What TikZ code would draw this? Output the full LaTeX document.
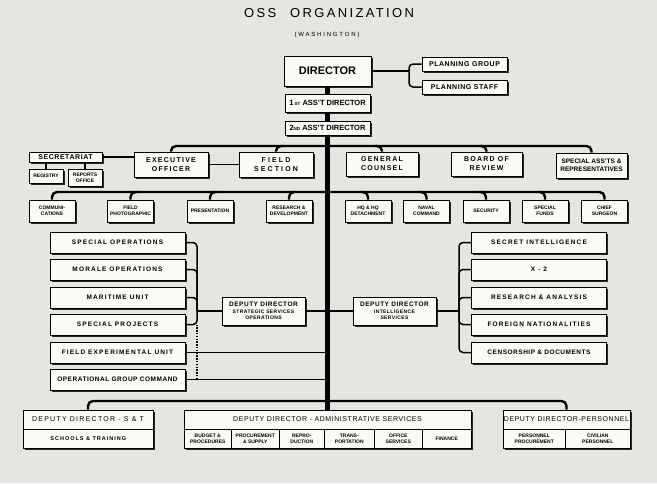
\documentclass[tikz,border=0pt]{standalone}
\usepackage{fontspec}
\setmainfont{Liberation Sans}
\newfontfamily\spaced[LetterSpace=8]{Liberation Sans}
\newfontfamily\wider[LetterSpace=18]{Liberation Sans}
\newfontfamily\widest[LetterSpace=30]{Liberation Sans}
\usetikzlibrary{shadows}
\definecolor{paper}{RGB}{229,229,225}
\definecolor{card}{RGB}{250,250,247}
\newcommand{\sz}[2]{\fontsize{#1}{#2}\selectfont}

\begin{document}
\begin{tikzpicture}[x=1pt, y=-1pt,
  box/.style={draw, line width=0.6pt, fill=card, inner sep=0pt, align=center,
    font=\bfseries\sz{6.5}{7.5},
    drop shadow={shadow xshift=1.7pt, shadow yshift=-1.7pt, opacity=1, fill=black!85}},
  wh/.style 2 args={minimum width=#1pt, minimum height=#2pt},
  office/.style={box, wh={46}{22}, font=\bfseries\sz{5}{6}},
  lcol/.style={box, wh={135}{21}, font=\wider\bfseries\sz{6.5}{7.5}},
  head/.style={box, minimum height=19pt, font=\spaced\sz{7}{8}},
  cell/.style={box, anchor=north west, minimum height=19pt, font=\bfseries\sz{5}{6}},
  link/.style={line width=1.5pt, rounded corners=4pt},
  rail/.style={line width=2.4pt, rounded corners=5pt},
  trunk/.style={line width=4.8pt},
  dots/.style={line width=1.5pt, dash pattern=on 1.4pt off 1.4pt}]
% paper
\fill[paper] (0,0) rectangle (657,483);
% title
\node[font=\wider\sz{13}{14}] (title) at (329,13) {OSS\hspace{14pt}ORGANIZATION};
\node[font=\widest\sz{6}{7}] (city) at (327,35) {(WASHINGTON)};
% top
\node[box, wh={87}{30}, font=\bfseries\sz{11}{12}] (dir) at (327.5,71) {DIRECTOR};
\node[box, wh={85}{18}, font=\bfseries\sz{7.5}{8}] (a1) at (327.5,103) {1\,{\sz{4.5}{5}ST} ASS'T DIRECTOR};
\node[box, wh={85}{14}, font=\bfseries\sz{7.5}{8}] (a2) at (327.5,128) {2{\sz{4.5}{5}ND} ASS'T DIRECTOR};
\node[box, wh={85}{14}, font=\spaced\bfseries\sz{7}{8}] (plang) at (464.5,64) {PLANNING GROUP};
\node[box, wh={85}{14}, font=\spaced\bfseries\sz{7}{8}] (plans) at (464.5,87) {PLANNING STAFF};
% second row
\node[box, wh={73}{10}, font=\spaced\bfseries\sz{7}{8}] (secr) at (65.5,157) {SECRETARIAT};
\node[box, wh={34}{14}, font=\bfseries\sz{5}{6}] (reg) at (46,176) {REGISTRY};
\node[box, wh={34}{17}, font=\bfseries\sz{5}{6}] (rep) at (85,177.5) {REPORTS\\OFFICE};
\node[box, wh={74}{25}, font=\wider\bfseries\sz{7}{9}] (exec) at (171,164.5) {EXECUTIVE\\OFFICER};
\node[box, wh={74}{25}, font=\widest\bfseries\sz{7}{9}] (field) at (276,164.5) {FIELD\\SECTION};
\node[box, wh={72}{24}, font=\wider\bfseries\sz{7}{9}] (couns) at (382,164) {GENERAL\\COUNSEL};
\node[box, wh={71}{24}, font=\wider\bfseries\sz{7}{9}] (review) at (486.5,164) {BOARD OF\\REVIEW};
\node[box, wh={71}{25}, font=\bfseries\sz{6.5}{8}] (spec) at (591.5,165.5) {SPECIAL ASS'TS \&\\REPRESENTATIVES};
% third row
\node[office] (comm) at (52,211) {COMMUNI-\\CATIONS};
\node[office] (photo) at (130.5,211) {FIELD\\PHOTOGRAPHIC};
\node[office] (pres) at (210,211) {PRESENTATION};
\node[office] (rnd) at (289,211) {RESEARCH \&\\DEVELOPMENT};
\node[office] (hq) at (368,211) {HQ \& HQ\\DETACHMENT};
\node[office] (naval) at (426.5,211) {NAVAL\\COMMAND};
\node[office] (secur) at (486,211) {SECURITY};
\node[office] (funds) at (545,211) {SPECIAL\\FUNDS};
\node[office] (surg) at (604.5,211) {CHIEF\\SURGEON};
% strategic services
\node[lcol] (so) at (117.5,242.5) {SPECIAL OPERATIONS};
\node[lcol] (mo) at (117.5,269.5) {MORALE OPERATIONS};
\node[lcol] (mu) at (117.5,297.5) {MARITIME UNIT};
\node[lcol] (sp) at (117.5,324.5) {SPECIAL PROJECTS};
\node[lcol] (feu) at (117.5,352.5) {FIELD EXPERIMENTAL UNIT};
\node[lcol, font=\spaced\bfseries\sz{6.5}{7.5}] (ogc) at (117.5,379.5) {OPERATIONAL GROUP COMMAND};
\node[box, wh={83}{28}, font=\spaced\bfseries\sz{6.5}{6.5}] (ddso) at (263.5,311)
  {DEPUTY DIRECTOR\\{\sz{5}{6}STRATEGIC SERVICES}\\{\sz{5}{6}OPERATIONS}};
% intelligence
\node[box, wh={83}{28}, font=\spaced\bfseries\sz{6.5}{6.5}] (ddis) at (394.5,311)
  {DEPUTY DIRECTOR\\{\sz{5}{6}INTELLIGENCE}\\{\sz{5}{6}SERVICES}};
\node[lcol] (si) at (539,242.5) {SECRET INTELLIGENCE};
\node[lcol] (x2) at (539,269.5) {X - 2};
\node[lcol] (ra) at (539,297.5) {RESEARCH \& ANALYSIS};
\node[lcol] (fn) at (539,324.5) {FOREIGN NATIONALITIES};
\node[lcol, font=\spaced\bfseries\sz{6.5}{7.5}] (cd) at (539,352.5) {CENSORSHIP \& DOCUMENTS};
% bottom
\node[head, minimum width=130pt, font=\wider\sz{7}{8}] (st) at (88,419.5) {DEPUTY DIRECTOR - S \& T};
\node[cell, minimum width=130pt, font=\wider\bfseries\sz{5.5}{6}] (school) at (23,429) {SCHOOLS \& TRAINING};
\node[head, minimum width=287pt] (admin) at (327.5,419.5) {DEPUTY DIRECTOR - ADMINISTRATIVE SERVICES};
\node[cell, minimum width=47pt] (budget) at (184,429) {BUDGET \&\\PROCEDURES};
\node[cell, minimum width=48pt] (proc) at (231,429) {PROCUREMENT\\\& SUPPLY};
\node[cell, minimum width=45pt] (repro) at (279,429) {REPRO-\\DUCTION};
\node[cell, minimum width=50pt] (trans) at (324,429) {TRANS-\\PORTATION};
\node[cell, minimum width=48pt] (offsvc) at (374,429) {OFFICE\\SERVICES};
\node[cell, minimum width=49pt] (fin) at (422,429) {FINANCE};
\node[head, minimum width=127pt] (pers) at (566.5,419.5) {DEPUTY DIRECTOR-PERSONNEL};
\node[cell, minimum width=62pt] (pproc) at (503,429) {PERSONNEL\\PROCUREMENT};
\node[cell, minimum width=65pt] (civ) at (565,429) {CIVILIAN\\PERSONNEL};
% trunk
\draw[trunk] (dir.south) -- (a1.north);
\draw[trunk] (a1.south) -- (a2.north);
\draw[trunk] (a2.south) -- (admin.north);
% planning
\coordinate (pj) at (409,71);
\draw[link] (dir.east) -- (pj);
\draw[link] (pj) |- (plang.west);
\draw[link] (pj) |- (plans.west);
% second row lines
\coordinate (r2) at (0,146);
\draw[rail] (exec.north) |- (spec.north |- r2) -- (spec.north);
\draw[rail] ([xshift=7pt]field.north |- r2) -| (field.north);
\draw[rail] ([xshift=-7pt]couns.north |- r2) -| (couns.north);
\draw[rail] ([xshift=-7pt]review.north |- r2) -| (review.north);
\draw[link] (secr.east) -- (secr.east -| exec.west);
\draw[link] (exec.east) -- (field.west);
\draw[link] (reg.north) -- (reg.north |- secr.south);
\draw[link] (rep.north) -- (rep.north |- secr.south);
% third row lines
\coordinate (r3) at (0,192);
\draw[rail] (comm.north) |- (surg.north |- r3) -- (surg.north);
\draw[rail] ([xshift=7pt]photo.north |- r3) -| (photo.north);
\draw[rail] ([xshift=7pt]pres.north |- r3) -| (pres.north);
\draw[rail] ([xshift=7pt]rnd.north |- r3) -| (rnd.north);
\draw[rail] ([xshift=-7pt]hq.north |- r3) -| (hq.north);
\draw[rail] ([xshift=-7pt]naval.north |- r3) -| (naval.north);
\draw[rail] ([xshift=-7pt]secur.north |- r3) -| (secur.north);
\draw[rail] ([xshift=-7pt]funds.north |- r3) -| (funds.north);
% strategic services lines
\coordinate (sso) at (197,311);
\draw[link] (so.east) -| (sso);
\draw[link] (mo.east) -| (sso);
\draw[link] (mu.east) -| (sso);
\draw[link] (sp.east) -| (sso);
\draw[link] (sso) -- (ddso.west);
\draw[dots] (sso |- sp.east) -- (sso |- ogc.east);
\draw[link] (ddso.east) -- (ddso.east -| a2.south);
\draw[link] (feu.east) -- (feu.east -| a2.south);
\draw[link] (ogc.east) -- (ogc.east -| a2.south);
% intelligence lines
\coordinate (sio) at (459,311);
\draw[link] (ddis.west -| a2.south) -- (ddis.west);
\draw[link] (ddis.east) -- (sio);
\draw[link] (sio) |- (si.west);
\draw[link] (sio) |- (x2.west);
\draw[link] (sio) |- (ra.west);
\draw[link] (sio) |- (fn.west);
\draw[link] (sio) |- (cd.west);
% bottom lines
\coordinate (r4) at (0,401);
\draw[rail] (st.north) |- (pers.north |- r4) -- (pers.north);
\end{tikzpicture}
\end{document}
